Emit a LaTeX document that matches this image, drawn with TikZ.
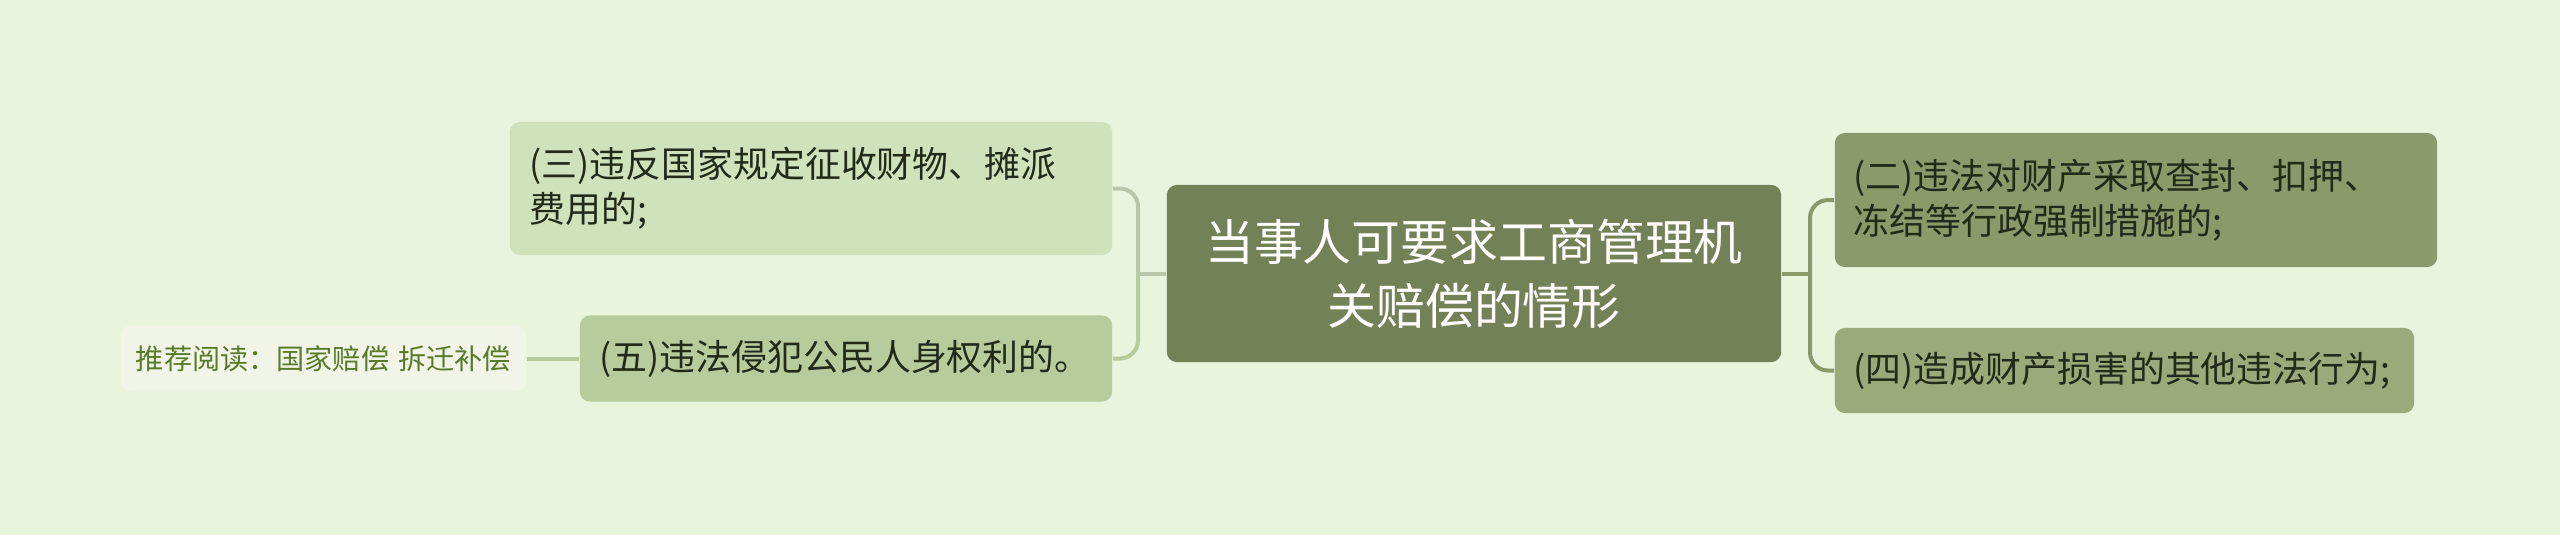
\documentclass[tikz,border=0pt]{standalone}
\usepackage{fontspec}
\setmainfont{Noto Sans CJK SC}
\definecolor{bgcol}{HTML}{E8F4DC}
\definecolor{rootcol}{HTML}{728156}
\definecolor{threecol}{HTML}{D0E2BC}
\definecolor{fivecol}{HTML}{B8CB9C}
\definecolor{twocol}{HTML}{8A9A6A}
\definecolor{fourcol}{HTML}{9BAA7B}
\definecolor{reccol}{HTML}{F0F5E8}
\definecolor{rectext}{HTML}{5A7A2A}
\definecolor{inkcol}{HTML}{222A18}
\begin{document}
\begin{tikzpicture}[
			x=0.01cm, y=-0.01cm,
			every node/.style={rounded corners=0.1cm, inner ysep=0pt, font=\fontsize{10.2pt}{12.8pt}\selectfont, text=inkcol, align=left},
			topic/.style={fill=rootcol, text=white, align=center, inner xsep=0.3cm, text width=5.54cm, minimum height=1.77cm, font=\fontsize{13.9pt}{18.2pt}\selectfont},
			leftline/.style={draw=#1, line width=0.04cm, rounded corners=0.18cm},
			rightline/.style={draw=twocol, line width=0.04cm, rounded corners=0.18cm}
		]
			\fill[bgcol] (0,0) rectangle (2560,535);
			\useasboundingbox (0,0) rectangle (2560,535);
			% centre
			\node[topic] (root) at (1474,273.5) {当事人可要求工商管理机\\关赔偿的情形};
			% left side
			\node[fill=threecol, inner xsep=0.2cm, text width=5.62cm, minimum height=1.33cm] (three) at (811,188.5) {(三)违反国家规定征收财物、摊派\\费用的;};
			\node[fill=fivecol, inner xsep=0.2cm, text width=4.92cm, minimum height=0.86cm] (five) at (846,358.5) {(五)违法侵犯公民人身权利的。};
			\node[fill=reccol, text=rectext, inner xsep=0.14cm, text width=3.77cm, align=center, minimum height=0.66cm, font=\fontsize{8pt}{10pt}\selectfont] (rec) at (323.5,358.5) {推荐阅读：国家赔偿 拆迁补偿};
			% right side
			\node[fill=twocol, inner xsep=0.19cm, text width=5.64cm, minimum height=1.34cm] (two) at (2136,200) {(二)违法对财产采取查封、扣押、\\冻结等行政强制措施的;};
			\node[fill=fourcol, inner xsep=0.19cm, text width=5.41cm, minimum height=0.85cm] (four) at (2124.5,370.5) {(四)造成财产损害的其他违法行为;};
			% connectors
			\coordinate (jl) at (1138,273.5);
			\coordinate (jr) at (1810,273.5);
			\draw[leftline=threecol!85!black!90] (root.west) -- (jl);
			\draw[leftline=threecol!85!black!90] (three.east) -| (jl);
			\draw[leftline=fivecol] (jl) |- (five.east);
			\draw[leftline=fivecol] (rec.east) -- (five.west);
			\draw[rightline] (root.east) -- (jr);
			\draw[rightline] (two.west) -| (jr) |- (four.west);
		\end{tikzpicture}
\end{document}
